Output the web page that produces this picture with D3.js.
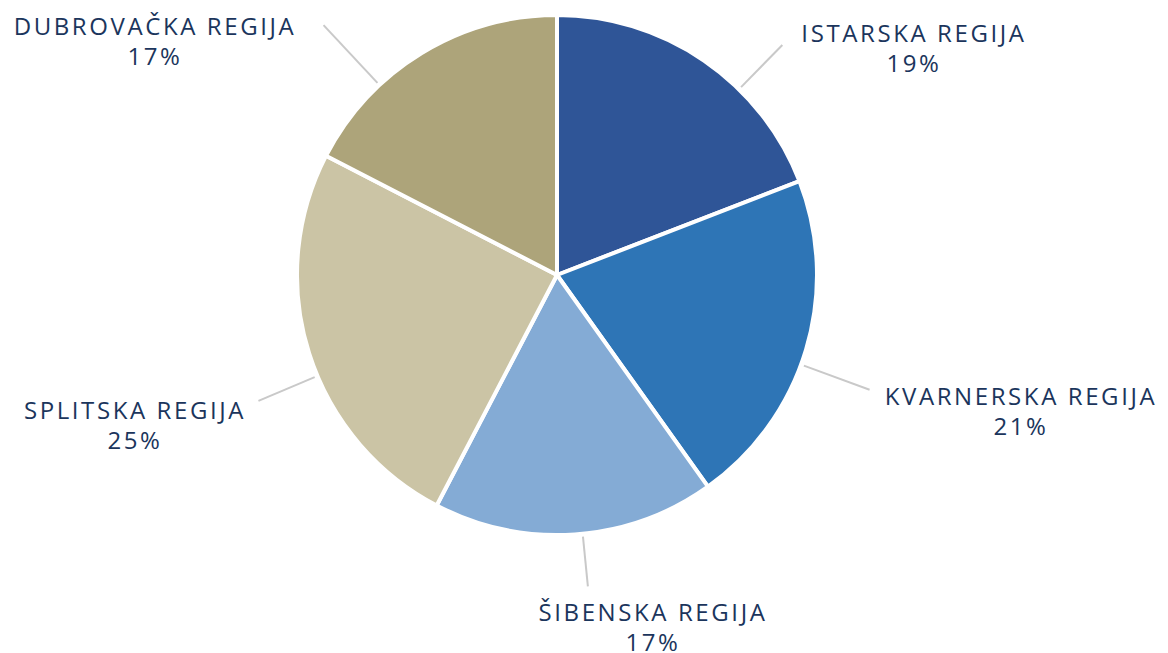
<!DOCTYPE html>
<html>
<head>
<meta charset="utf-8">
<script src="https://cdn.jsdelivr.net/npm/d3@7"></script>
<style>
  body { margin: 0; background: #fff; }
</style>
</head>
<body>
<div id="chart"></div>
<script>
// data
var regions = ["ISTARSKA REGIJA", "KVARNERSKA REGIJA", "ŠIBENSKA REGIJA", "SPLITSKA REGIJA", "DUBROVAČKA REGIJA"];
var shares = [19.1, 21.0, 17.5, 24.9, 17.4];
var shareLabels = ["19%", "21%", "17%", "25%", "17%"];
var colors = ["#2f5597", "#2e75b6", "#84abd5", "#cbc4a5", "#ada47a"];

// label placement (layout only): leader angle offset from slice middle (deg), leader end radius, text centre and baseline
var leaderShift = [10, 3.5, -1.7, -5.3, -11.7];
var leaderEnd = [322, 333, 313, 324, 342];
var labelX = [914, 1021, 653, 135, 155];
var labelY = [42, 405, 621, 419, 35];

var svg = d3.select("#chart").append("svg").attr("width", 1168).attr("height", 653),
    cx = 557,
    cy = 275,
    radius = 260;

var data = regions.map(function(r, i) {
  return { name: r, value: shares[i], label: shareLabels[i], color: colors[i], i: i };
});

var pie = d3.pie().sort(null).value(function(d) { return d.value; });
var arc = d3.arc().innerRadius(0).outerRadius(radius);

var g = svg.append("g").attr("transform", "translate(" + cx + "," + cy + ")");

var arcs = pie(data);

g.selectAll(".slice")
  .data(arcs)
  .enter().append("path")
  .attr("class", "slice")
  .attr("d", arc)
  .attr("fill", function(d) { return d.data.color; })
  .attr("stroke", "#fff")
  .attr("stroke-width", 4)
  .attr("stroke-linejoin", "round");

// leader lines
g.selectAll(".leader")
  .data(arcs)
  .enter().append("line")
  .attr("class", "leader")
  .each(function(d) {
    var a = (d.startAngle + d.endAngle) / 2 + leaderShift[d.data.i] * Math.PI / 180;
    d3.select(this)
      .attr("x1", Math.sin(a) * (radius + 3))
      .attr("y1", -Math.cos(a) * (radius + 3))
      .attr("x2", Math.sin(a) * leaderEnd[d.data.i])
      .attr("y2", -Math.cos(a) * leaderEnd[d.data.i]);
  })
  .attr("stroke", "#c9c9c9")
  .attr("stroke-width", 2);

// labels
var labels = svg.selectAll(".label")
  .data(data)
  .enter().append("text")
  .attr("class", "label")
  .attr("text-anchor", "middle")
  .attr("font-family", "'Open Sans', sans-serif")
  .attr("font-size", "24px")
  .attr("letter-spacing", "2.6px")
  .attr("fill", "#1b355c")
  .attr("x", function(d) { return labelX[d.i]; })
  .attr("y", function(d) { return labelY[d.i]; });

labels.append("tspan")
  .attr("x", function(d) { return labelX[d.i]; })
  .text(function(d) { return d.name; });

labels.append("tspan")
  .attr("x", function(d) { return labelX[d.i]; })
  .attr("dy", 30)
  .text(function(d) { return d.label; });
</script>
</body>
</html>
